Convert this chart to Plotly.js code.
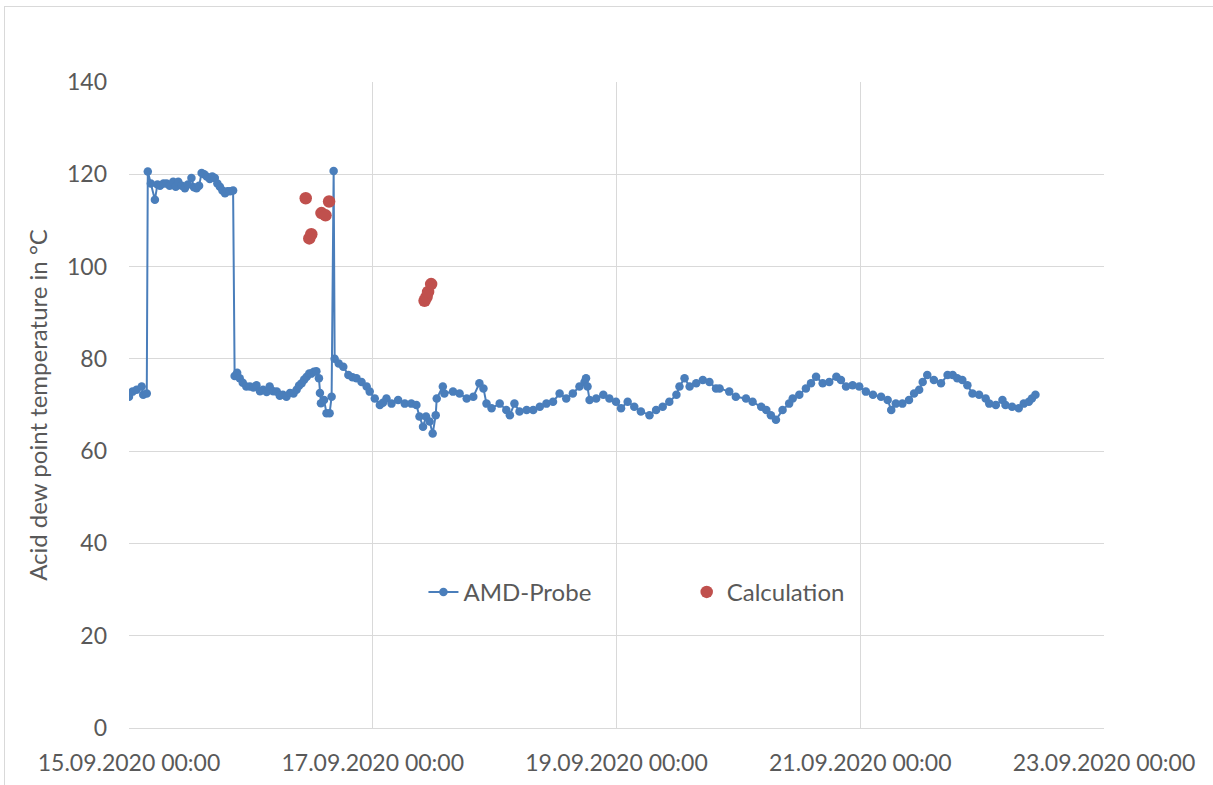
<!DOCTYPE html>
<html>
<head>
<meta charset="utf-8">
<script src="https://cdn.plot.ly/plotly-3.0.1.min.js"></script>
<style>
  html, body { margin: 0; padding: 0; background: #ffffff; }
  #wrap { position: relative; width: 1213px; height: 785px; overflow: hidden; }
  #frame { position: absolute; left: 4px; top: 6px; width: 1220px; height: 790px; border-left: 1px solid #d9d9d9; border-top: 1px solid #d9d9d9; pointer-events: none; }
  #chart { position: absolute; left: 0; top: 0; width: 1213px; height: 785px; }
</style>
</head>
<body>
<div id="wrap">
  <div id="chart"></div>
  <div id="frame"></div>
</div>
<script>
// Time base: 15.09.2020 00:00; hours after it
const startDate = [2020, 8, 15];

// AMD-Probe series (hours since start, °C)
const amdHours = [0.0,0.7,1.5,2.5,2.8,3.5,3.7,4.3,5.1,5.6,6.1,6.8,7.4,8.0,8.7,9.2,9.7,10.4,11.0,11.6,12.3,12.8,13.3,13.8,14.3,14.8,15.3,15.9,16.4,16.9,17.4,17.9,18.4,18.9,19.4,19.9,20.5,
20.8,21.3,21.8,22.4,23.1,23.8,24.5,25.1,25.8,26.4,27.1,27.7,28.4,29.1,29.7,30.3,31.0,31.7,32.4,33.0,33.5,34.0,34.5,35.0,35.5,35.9,36.4,36.9,37.4,37.6,37.8,38.4,38.9,39.5,39.9,
40.3,40.5,41.3,42.2,43.2,44.0,44.8,45.8,46.8,47.4,48.4,49.4,50.0,50.7,51.7,53.0,54.3,55.6,56.6,57.2,57.9,58.5,59.2,59.8,60.4,60.6,61.8,62.1,63.8,65.1,66.5,67.8,69.0,69.8,70.4,71.4,
73.0,74.3,75.0,75.9,76.9,78.3,79.6,80.9,82.2,83.5,84.8,86.1,87.4,88.7,89.7,90.0,90.3,90.7,92.0,93.4,94.6,95.9,96.9,98.2,99.5,100.8,102.5,103.8,105.1,106.4,107.8,108.4,109.4,110.4,
111.7,113.0,114.3,115.6,116.3,118.2,119.5,121.5,122.8,124.5,125.5,126.4,127.4,128.7,130.0,130.7,132.0,133.3,134.3,135.3,136.6,137.9,139.3,140.2,141.2,142.5,143.8,145.1,146.5,148.1,
149.4,150.1,151.0,152.3,153.6,154.6,155.6,156.3,157.2,158.5,159.9,161.2,162.2,163.1,164.1,165.1,166.1,167.4,168.7,169.4,170.7,172.0,172.6,173.9,175.2,176.2,177.2,177.8,178.5];
const amdValues = [71.8,72.9,73.3,74.0,72.2,72.5,120.6,118.0,114.5,117.8,117.5,118.0,118.0,117.5,118.4,117.3,118.4,117.5,117.0,117.8,119.2,117.2,117.0,117.5,120.3,120.0,119.5,119.0,119.5,119.2,118.0,117.3,116.5,115.9,116.3,116.3,116.5,
76.3,77.0,75.8,74.8,74.0,74.0,73.8,74.3,73.0,73.3,72.8,74.0,73.0,72.9,72.0,72.2,71.8,72.6,72.5,73.3,74.2,74.7,75.5,76.1,76.8,76.8,77.2,77.3,75.8,72.6,70.4,71.1,68.2,68.2,71.8,
120.7,80.0,79.0,78.3,76.5,76.0,75.8,75.0,74.0,72.9,71.4,70.0,70.5,71.4,70.3,71.1,70.3,70.3,70.0,67.5,65.3,67.5,66.4,63.8,67.8,71.4,74.0,72.5,72.9,72.5,71.4,71.8,74.7,73.6,70.3,69.3,
70.3,68.9,67.8,70.3,68.6,68.9,68.9,69.6,70.3,70.7,72.5,71.4,72.5,74.0,75.0,75.8,74.0,71.1,71.4,72.2,71.4,70.7,69.3,70.7,69.6,68.6,67.8,68.9,69.6,70.7,72.2,74.0,75.8,74.0,
74.7,75.4,75.0,73.6,73.6,72.9,71.8,71.4,70.7,69.6,68.9,67.8,66.8,68.9,70.3,71.4,72.2,73.6,74.7,76.1,74.7,75.0,76.1,75.4,74.0,74.3,74.0,72.9,72.2,71.8,
71.1,68.9,70.3,70.3,71.1,72.5,73.3,75.0,76.5,75.4,74.7,76.5,76.5,75.8,75.4,74.3,72.5,72.2,71.4,70.3,70.0,71.1,70.0,69.6,69.3,70.3,70.7,71.4,72.2];

// Calculation series (hours since start, °C)
const calcHours = [34.8,35.5,35.9,37.9,38.7,39.4,58.2,58.6,58.9,59.5];
const calcValues = [114.8,106.1,107.0,111.6,111.1,114.1,92.6,93.4,94.5,96.2];

// Axis tick labels
const xTickVals = ['2020-09-15 00:00','2020-09-17 00:00','2020-09-19 00:00','2020-09-21 00:00','2020-09-23 00:00'];
const xTickText = ['15.09.2020 00:00','17.09.2020 00:00','19.09.2020 00:00','21.09.2020 00:00','23.09.2020 00:00'];
const yTickVals = [0,20,40,60,80,100,120,140];

function pad(n){ return (n<10?'0':'')+n; }
function toDate(h){
  const base = Date.UTC(startDate[0], startDate[1], startDate[2]);
  const d = new Date(base + Math.round(h*3600000));
  return d.getUTCFullYear()+'-'+pad(d.getUTCMonth()+1)+'-'+pad(d.getUTCDate())+' '+pad(d.getUTCHours())+':'+pad(d.getUTCMinutes())+':'+pad(d.getUTCSeconds());
}

const FONT = 'Lato, "Open Sans", sans-serif';
const TXT = '#595959';

const traces = [
  {
    type: 'scatter', mode: 'lines+markers', name: 'AMD-Probe',
    x: amdHours.map(toDate), y: amdValues,
    line: {color: '#4a7ebb', width: 2},
    marker: {color: '#4a7ebb', size: 8.5},
    legend: 'legend'
  },
  {
    type: 'scatter', mode: 'markers', name: 'Calculation',
    x: calcHours.map(toDate), y: calcValues,
    marker: {color: '#c0504d', size: 12.5},
    legend: 'legend2'
  }
];

const layout = {
  width: 1213, height: 785,
  margin: {l: 129, r: 109, t: 82, b: 57},
  paper_bgcolor: '#ffffff', plot_bgcolor: '#ffffff',
  font: {family: FONT, size: 23, color: TXT},
  showlegend: true,
  legend: {x: 0.302, y: 0.21, xanchor: 'left', yanchor: 'middle', orientation: 'h',
           font: {family: FONT, size: 24, color: TXT}, bgcolor: 'rgba(0,0,0,0)'},
  legend2: {x: 0.572, y: 0.21, xanchor: 'left', yanchor: 'middle', orientation: 'h',
           font: {family: FONT, size: 24, color: TXT}, bgcolor: 'rgba(0,0,0,0)'},
  xaxis: {
    type: 'date',
    range: ['2020-09-15 00:00', '2020-09-23 00:00'],
    tickmode: 'array', tickvals: xTickVals, ticktext: xTickText,
    showgrid: true, gridcolor: '#d9d9d9', gridwidth: 1,
    showline: true, linecolor: '#d9d9d9', linewidth: 1,
    zeroline: false, ticks: '', ticklabelstandoff: 14,
    tickfont: {family: FONT, size: 23, color: TXT}
  },
  yaxis: {
    range: [0, 140], tickmode: 'array', tickvals: yTickVals,
    showgrid: true, gridcolor: '#d9d9d9', gridwidth: 1,
    zeroline: false, showline: false, ticks: '', ticklabelstandoff: 21,
    tickfont: {family: FONT, size: 23, color: TXT},
    title: {text: 'Acid dew point temperature in °C', font: {family: FONT, size: 24, color: TXT}, standoff: 12}
  }
};

Plotly.newPlot('chart', traces, layout, {displayModeBar: false, staticPlot: true});
</script>
</body>
</html>
